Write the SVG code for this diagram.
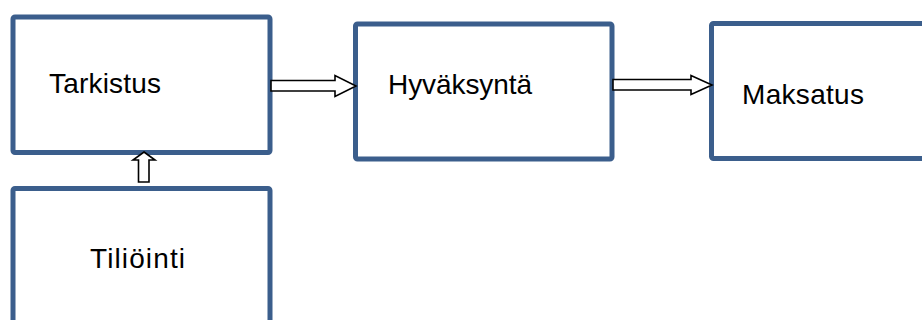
<svg xmlns="http://www.w3.org/2000/svg" width="922" height="320" viewBox="0 0 922 320">
<style>
.box{fill:#ffffff;stroke:#3b5e8c;stroke-width:5}
.lbl{font-family:"Liberation Sans",Arial,sans-serif;font-size:28px;fill:#000000}
.arr{fill:#ffffff;stroke:#000000;stroke-width:1.6;stroke-linejoin:miter}
</style>
<rect width="922" height="320" fill="#ffffff"/>
<g id="node-tarkistus">
<rect class="box" x="13" y="17" width="257" height="135.5" rx="2"/>
<text class="lbl" x="49" y="93" textLength="112">Tarkistus</text>
</g>
<g id="node-hyvaksynta">
<rect class="box" x="355.5" y="24" width="256.5" height="135" rx="2"/>
<text class="lbl" x="388" y="94" textLength="144">Hyväksyntä</text>
</g>
<g id="node-maksatus">
<rect class="box" x="711.5" y="23.5" width="260" height="135" rx="2"/>
<text class="lbl" x="742" y="104" textLength="122">Maksatus</text>
</g>
<g id="node-tiliointi">
<rect class="box" x="13" y="188.5" width="257" height="160" rx="2"/>
<text class="lbl" x="90" y="268" textLength="95">Tiliöinti</text>
</g>
<g id="connectors">
<polygon class="arr" points="271,80.5 335,80.5 335,75.5 356,86 335,96.5 335,91 271,91"/>
<polygon class="arr" points="613,79.5 691,79.5 691,75.5 712,85 691,94.5 691,90 613,90"/>
<polygon class="arr" points="144,152 155,160 149,160 149,182 138.5,182 138.5,160 133,160"/>
</g>
</svg>
